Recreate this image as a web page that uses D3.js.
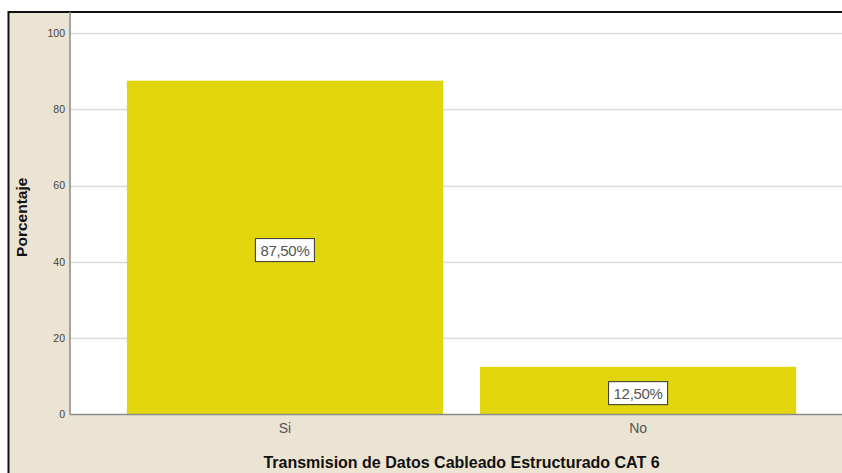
<!DOCTYPE html>
<html><head><meta charset="utf-8">
<script src="https://cdn.jsdelivr.net/npm/d3@7"></script>
<style>body{margin:0;background:#fff}svg{display:block}</style>
</head><body>
<script>
const categories = ["Si", "No"];
const values = [87.5, 12.5];
const valueLabels = ["87,50%", "12,50%"];
const yTicks = [0, 20, 40, 60, 80, 100];
const xTitle = "Transmision de Datos Cableado Estructurado CAT 6";
const yTitle = "Porcentaje";

const W = 842, H = 473;
const FONT = "Arial, 'Liberation Sans', sans-serif";
const svg = d3.select("body").append("svg").attr("width", W).attr("height", H);
const plot = {left: 70, right: 853, top: 12, bottom: 414.5};

svg.append("rect").attr("x", 0).attr("y", 0).attr("width", W).attr("height", H).attr("fill", "#fff");
svg.append("rect").attr("x", 8).attr("y", 12).attr("width", W).attr("height", H).attr("fill", "#ebe4d3");
svg.append("rect").attr("x", plot.left).attr("y", plot.top).attr("width", plot.right - plot.left).attr("height", plot.bottom - plot.top).attr("fill", "#fff");
svg.append("line").attr("x1", 8.5).attr("x2", 8.5).attr("y1", 11).attr("y2", H).attr("stroke", "#111").attr("stroke-width", 2);
svg.append("line").attr("x1", 8).attr("x2", W).attr("y1", 12).attr("y2", 12).attr("stroke", "#111").attr("stroke-width", 2);

const y = d3.scaleLinear().domain([0, 100]).range([plot.bottom, 33]);
const x = d3.scaleBand().domain(categories).range([plot.left, plot.right]).paddingInner(0.105).paddingOuter(0.161);

svg.append("g").selectAll("line").data(yTicks.filter(d => d > 0)).join("line")
  .attr("x1", plot.left).attr("x2", plot.right)
  .attr("y1", d => Math.round(y(d)) + 0.5).attr("y2", d => Math.round(y(d)) + 0.5)
  .attr("stroke", "#d9d9d9").attr("stroke-width", 1.5);

svg.append("g").selectAll("rect").data(values).join("rect")
  .attr("x", (d, i) => x(categories[i])).attr("width", x.bandwidth())
  .attr("y", d => y(d)).attr("height", d => y(0) - y(d))
  .attr("fill", "#e1d60c");

const yAxis = svg.append("g").attr("transform", `translate(${plot.left},0)`)
  .call(d3.axisLeft(y).tickValues(yTicks).tickSize(0).tickPadding(5));
yAxis.select(".domain").attr("stroke", "#8a8a8a").attr("stroke-width", 1.5).attr("d", `M0,${plot.top}V${plot.bottom}`);
yAxis.selectAll("text").attr("font-family", FONT).attr("font-size", 10.5).attr("fill", "#444");

const xAxis = svg.append("g").attr("transform", `translate(0,${plot.bottom})`)
  .call(d3.axisBottom(x).tickSize(0).tickPadding(9));
xAxis.select(".domain").attr("stroke", "#8a8a8a").attr("stroke-width", 1.5).attr("d", `M${plot.left},0H${plot.right}`);
xAxis.selectAll("text").attr("font-family", FONT).attr("font-size", 14).attr("fill", "#555");

const lab = svg.append("g").selectAll("g").data(values).join("g")
  .attr("transform", (d, i) => `translate(${x(categories[i]) + x.bandwidth() / 2},${(y(d) + y(0)) / 2 + 3})`);
lab.append("rect").attr("x", -29.5).attr("y", -12).attr("width", 59).attr("height", 23)
  .attr("fill", "#fff").attr("stroke", "#333").attr("stroke-width", 1);
lab.append("text").attr("text-anchor", "middle").attr("y", 5.5)
  .attr("font-family", FONT).attr("font-size", 15).attr("fill", "#555").attr("letter-spacing", -0.3)
  .text((d, i) => valueLabels[i]);

svg.append("text").attr("x", (plot.left + plot.right) / 2).attr("y", 468).attr("text-anchor", "middle")
  .attr("font-family", FONT).attr("font-size", 16).attr("font-weight", "bold").attr("fill", "#111")
  .text(xTitle);
svg.append("text").attr("transform", `translate(27,${(plot.top + plot.bottom) / 2 + 4}) rotate(-90)`).attr("text-anchor", "middle")
  .attr("font-family", FONT).attr("font-size", 15.5).attr("font-weight", "bold").attr("fill", "#111")
  .text(yTitle);
</script>
</body></html>
